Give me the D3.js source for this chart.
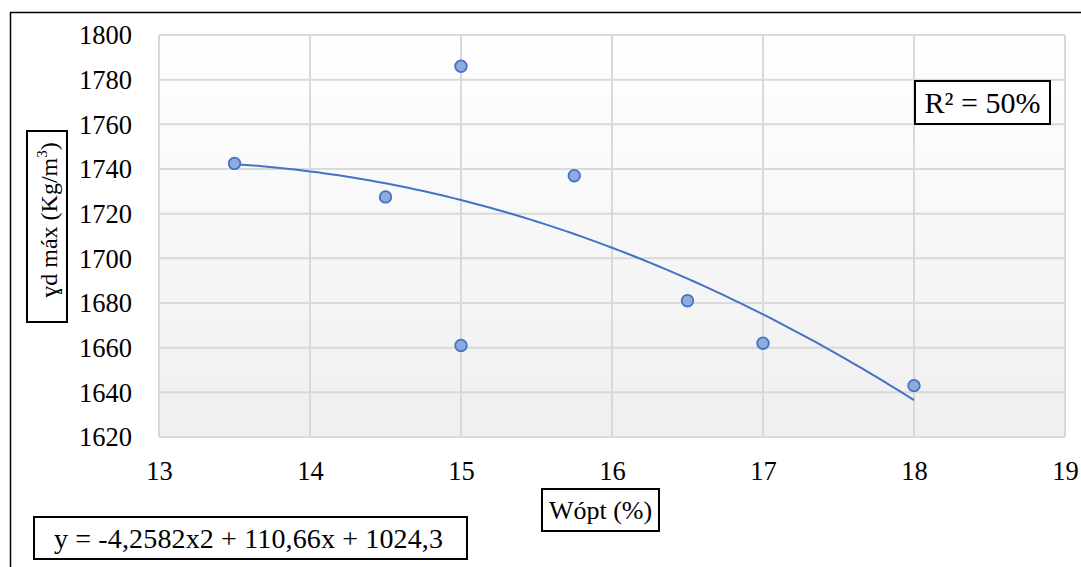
<!DOCTYPE html>
<html><head><meta charset="utf-8">
<script src="https://cdn.jsdelivr.net/npm/d3@7"></script>
<style>body{margin:0;background:#fff}svg{display:block}</style>
</head><body><svg id="c" width="1081" height="567"></svg>
<script>
const xValues = [13.5, 14.5, 15, 15, 15.75, 16.5, 17, 18];
const yValues = [1742.5, 1727.5, 1786, 1661, 1737, 1681, 1662, 1643];
const xTicks = [13, 14, 15, 16, 17, 18, 19];
const yTicks = [1620, 1640, 1660, 1680, 1700, 1720, 1740, 1760, 1780, 1800];
const trendCoef = [-4.2582, 110.66, 1024.3]; // a, b, c
const trendRange = [13.5, 18];
const xLabel = "Wópt (%)";
const equationText = "y = -4,2582x2 + 110,66x + 1024,3";
const r2Text = "R² = 50%";

const FONT = "'Liberation Serif'";
const svg = d3.select("#c");
const L = 159, R = 1065, T = 35, B = 437;
const x = d3.scaleLinear().domain([13, 19]).range([L, R]);
const y = d3.scaleLinear().domain([1620, 1800]).range([B, T]);

// outer frame
svg.append("path").attr("d", "M10.5,567 V12.5 H1081").attr("fill", "none").attr("stroke", "#000").attr("stroke-width", 1.5);

// plot bg gradient
const defs = svg.append("defs");
const g = defs.append("linearGradient").attr("id", "bg").attr("x1", 0).attr("y1", 0).attr("x2", 0).attr("y2", 1);
g.append("stop").attr("offset", "0%").attr("stop-color", "#ffffff");
g.append("stop").attr("offset", "100%").attr("stop-color", "#efefef");
svg.append("rect").attr("x", L).attr("y", T).attr("width", R - L).attr("height", B - T).attr("fill", "url(#bg)");

// gridlines
svg.append("g").selectAll("line").data(yTicks).join("line")
  .attr("x1", L).attr("x2", R).attr("y1", d => y(d)).attr("y2", d => y(d))
  .attr("stroke", "#d9d9d9").attr("stroke-width", 2);
svg.append("g").selectAll("line").data(xTicks).join("line")
  .attr("y1", T).attr("y2", B).attr("x1", d => x(d)).attr("x2", d => x(d))
  .attr("stroke", "#d9d9d9").attr("stroke-width", 2);

// axes (labels only)
const yAxis = svg.append("g").attr("transform", `translate(${L - 27},0)`)
  .call(d3.axisLeft(y).tickValues(yTicks).tickSize(0).tickFormat(d3.format("d")));
yAxis.attr("font-family", null).attr("font-size", null);
yAxis.select(".domain").remove();
yAxis.selectAll("text").attr("x", 0).attr("dy", "0.33em").attr("fill", "#000")
  .attr("font-family", FONT).attr("font-size", 26.5);
const xAxis = svg.append("g").attr("transform", `translate(0,${B + 43})`)
  .call(d3.axisBottom(x).tickValues(xTicks).tickSize(0).tickFormat(d3.format("d")));
xAxis.attr("font-family", null).attr("font-size", null);
xAxis.select(".domain").remove();
xAxis.selectAll("text").attr("y", 0).attr("dy", 0).attr("fill", "#000")
  .attr("font-family", FONT).attr("font-size", 26.5);

// trendline
const trendX = d3.range(trendRange[0], trendRange[1] + 0.001, 0.05);
const f = v => trendCoef[0] * v * v + trendCoef[1] * v + trendCoef[2];
svg.append("path").datum(trendX)
  .attr("d", d3.line().x(d => x(d)).y(d => y(f(d))))
  .attr("fill", "none").attr("stroke", "#4472c4").attr("stroke-width", 2);

// points
svg.append("g").selectAll("circle").data(xValues.map((v, i) => [v, yValues[i]])).join("circle")
  .attr("cx", d => x(d[0])).attr("cy", d => y(d[1])).attr("r", 5.8)
  .attr("fill", "#8faadc").attr("stroke", "#4472c4").attr("stroke-width", 1.8);

// boxed labels
function box(x0, y0, x1, y1) {
  svg.append("rect").attr("x", x0).attr("y", y0).attr("width", x1 - x0).attr("height", y1 - y0)
    .attr("fill", "#fff").attr("stroke", "#000").attr("stroke-width", 2);
}
// Y label
box(27, 131, 67, 322);
const yl = svg.append("text").attr("transform", "translate(57,220) rotate(-90)")
  .attr("text-anchor", "middle").attr("font-size", 24).attr("font-family", FONT).attr("fill", "#000");
yl.append("tspan").text("ɣd máx (Kg/m");
yl.append("tspan").attr("font-size", 15).attr("dy", -10).text("3");
yl.append("tspan").attr("dy", 10).text(")");

// X label
box(542, 489, 659, 531);
svg.append("text").attr("x", 600.5).attr("y", 519).attr("text-anchor", "middle")
  .attr("font-size", 26).attr("font-family", FONT).text(xLabel);

// equation
box(34, 517, 467, 559);
svg.append("text").attr("x", 54).attr("y", 548)
  .attr("font-size", 28).attr("font-family", FONT)
  .attr("textLength", 389).attr("lengthAdjust", "spacing").text(equationText);

// R2
box(915, 81, 1050, 124);
svg.append("text").attr("x", 982.5).attr("y", 113).attr("text-anchor", "middle")
  .attr("font-size", 30).attr("font-family", FONT).text(r2Text);
</script></body></html>
